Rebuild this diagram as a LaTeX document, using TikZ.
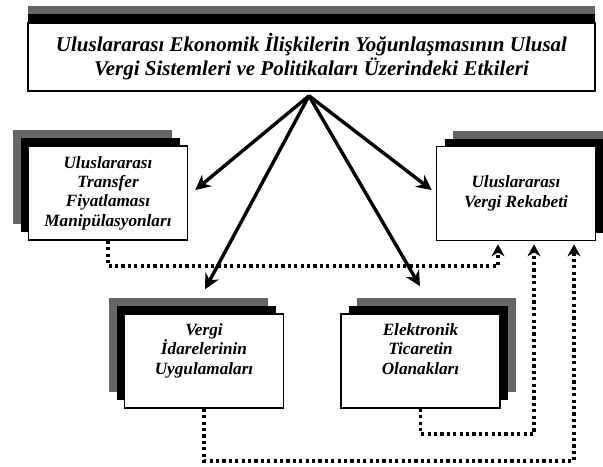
\documentclass[tikz,border=0pt]{standalone}
\usepackage{fontspec}
\setmainfont{Liberation Serif}
\usetikzlibrary{arrows.meta,calc,shadows}
\definecolor{golge}{RGB}{102,102,102}

\begin{document}
\begin{tikzpicture}[x=0.5pt, y=-0.5pt]
  \useasboundingbox (0,0) rectangle (603,466);

  % Kutular.
  \tikzstyle{kutu}=[draw, line width=0.8pt, fill=white, align=center, inner sep=0pt,
    font=\bfseries\itshape\fontsize{8.6}{9.65}\selectfont, minimum width=79.5pt, minimum height=47pt]
  \tikzstyle{sol}=[kutu, general shadow={fill=golge, shadow xshift=-8pt, shadow yshift=8pt},
    general shadow={fill=black, shadow xshift=-4pt, shadow yshift=4pt}]
  \tikzstyle{sag}=[kutu, general shadow={fill=golge, shadow xshift=8pt, shadow yshift=8pt},
    general shadow={fill=black, shadow xshift=4pt, shadow yshift=4pt}]
  \tikzstyle{ust}=[kutu, font=\bfseries\itshape\fontsize{10.5}{12}\selectfont,
    minimum width=283.5pt, minimum height=34pt,
    general shadow={fill=golge, shadow yshift=8.5pt},
    general shadow={fill=black, shadow yshift=4.5pt}]

  \node[ust] (etki) at (311.5,57) {Uluslararası Ekonomik İlişkilerin Yoğunlaşmasının Ulusal\\
    Vergi Sistemleri ve Politikaları Üzerindeki Etkileri};
  \node[sol] (transfer) at (108,193) {Uluslararası\\ Transfer\\ Fiyatlaması\\ Manipülasyonları};
  \node[sag] (rekabet) at (516,193.5) {Uluslararası\\ Vergi Rekabeti};
  \node[sol, text depth=12pt] (idare) at (204,361) {Vergi\\ İdarelerinin\\ Uygulamaları};
  \node[sag, text depth=12pt] (ticaret) at (420.5,361) {Elektronik\\ Ticaretin\\ Olanakları};

  % Oklar.
  \tikzstyle{ok}=[line width=1.7pt, -{Stealth[length=7.5pt, width=7.5pt]}]
  \coordinate (tepe) at ($(etki.south)+(-2.5,4)$);

  \draw[ok] (tepe) -- ($(transfer.east)+(7,-3)$);
  \draw[ok] (tepe) -- ($(idare.north)+(1,-24)$);
  \draw[ok] (tepe) -- ($(ticaret.north)+(-0.5,-27)$);
  \draw[ok] (tepe) -- ($(rekabet.west)+(-4,-3.5)$);

  % Noktalı bağlantılar.
  \tikzstyle{nokta}=[line width=1.7pt, dash pattern=on 1.6pt off 1.6pt,
    -{Stealth[length=6pt, width=6.5pt]}]

  \draw[nokta] (transfer.south) -- ++(0,25) -| ($(rekabet.south)+(-18,3)$);
  \draw[nokta] (ticaret.south) -- ++(0,25) -| ($(rekabet.south)+(18,3)$);
  \draw[nokta] (idare.south) -- ++(0,52) -| ($(rekabet.south)+(58,3)$);
\end{tikzpicture}
\end{document}
